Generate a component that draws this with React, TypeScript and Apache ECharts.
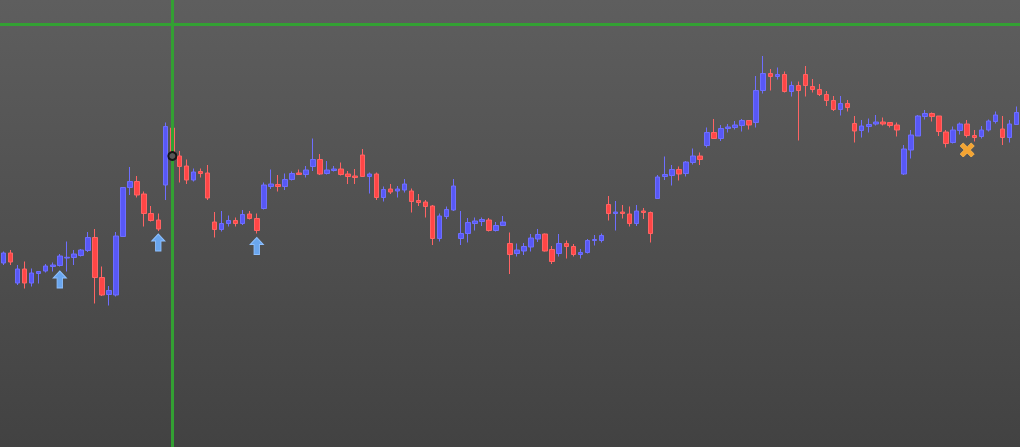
import React, { useEffect, useRef } from "react";
import * as echarts from "echarts";

// [open, close, low, high]
const candles: number[][] = [
  [184, 194, 182, 195.5],
  [194, 185, 182, 197],
  [164, 178, 162, 182],
  [178, 164, 158.5, 185.5],
  [164, 174, 160.5, 178.5],
  [173.5, 175.5, 163.5, 175.5],
  [176, 181, 174.5, 183],
  [180.5, 182, 175.5, 184.5],
  [181.5, 191, 180.5, 193],
  [189, 189.7, 175.5, 205.5],
  [189.5, 193, 182, 197],
  [191.5, 197, 190.5, 198],
  [196.5, 209.5, 195, 215],
  [209.5, 169.5, 143.5, 218],
  [169.5, 152, 151, 180.5],
  [152.5, 156.5, 141.5, 161],
  [152, 211, 150.5, 215],
  [210.5, 259.5, 210.5, 259.5],
  [259.5, 265.5, 252, 280],
  [265.5, 252, 249.5, 271],
  [253, 233.5, 220.5, 255.5],
  [233.5, 226.5, 225.5, 241],
  [227, 218, 216, 233.5],
  [262, 320.5, 247, 324.5],
  [319, 291, 284, 328.5],
  [291, 280.5, 264.5, 296],
  [281, 267, 263, 287.5],
  [267, 275, 265.5, 278.5],
  [275.5, 273.5, 269.5, 278.5],
  [274, 249, 247, 282],
  [225, 217.5, 209.5, 235],
  [217.5, 223.5, 215.5, 236],
  [223.5, 226.5, 220.5, 231.5],
  [226.5, 223.5, 220.5, 229.5],
  [223.5, 232.5, 222, 237],
  [233, 228.5, 227.5, 236],
  [228.5, 216.5, 213.5, 233.5],
  [238.5, 262, 237.5, 264.5],
  [260.5, 263, 258, 277.5],
  [262.5, 260.5, 255.5, 272],
  [260.5, 267.5, 257, 273.5],
  [267.5, 273.5, 266.5, 275.5],
  [274, 272.5, 272, 277.5],
  [272.5, 277, 269.5, 281],
  [280.5, 287.5, 276, 308.5],
  [287.5, 273, 272, 293],
  [273.5, 277, 272.5, 286],
  [276.5, 278, 275.5, 281],
  [278, 272.5, 271.5, 284.5],
  [273, 270.5, 263, 276],
  [271, 269.5, 263, 278],
  [292, 270.5, 270.5, 298],
  [270.5, 273, 253.5, 274.5],
  [273, 249.5, 247, 274.5],
  [249.5, 257.5, 245.5, 260.5],
  [258, 255, 253, 263],
  [256, 258, 249.5, 261],
  [257, 263, 254.5, 268],
  [256, 245.5, 234.5, 258.5],
  [246.5, 244.5, 241, 253],
  [245, 240.5, 229.5, 247],
  [241, 208.5, 202, 242],
  [208.5, 231, 205.5, 233.5],
  [230.5, 237.5, 228, 240.5],
  [237, 261, 236, 268],
  [208.5, 213.5, 202, 236],
  [213.5, 224.5, 204.5, 229],
  [223.5, 226, 216.5, 229.5],
  [225.5, 227.5, 221, 229.5],
  [227, 216.5, 215.5, 229],
  [216.5, 221.5, 215.5, 225],
  [221.5, 225, 221.5, 231],
  [203.5, 192.5, 173, 214.5],
  [193.5, 197, 190.5, 203.5],
  [196, 200.5, 192, 204],
  [200, 209, 195.5, 213],
  [208, 212.5, 205, 218],
  [213, 196, 195.5, 213.5],
  [197.5, 185.5, 183, 201],
  [193.5, 203.5, 190.5, 213],
  [203.5, 200.5, 188.5, 206.5],
  [200.5, 192.5, 190.5, 203],
  [192.5, 194.5, 188.5, 198],
  [194.5, 206.5, 193.5, 208],
  [206.5, 207.5, 201.5, 212],
  [206.5, 211.5, 204.5, 213.5],
  [242.5, 233.5, 226.5, 251],
  [233.5, 235, 216.5, 246],
  [235, 233.5, 228.5, 242],
  [233, 223.5, 220.5, 240.5],
  [223.5, 236, 221, 242],
  [236, 234.5, 228, 239],
  [234.5, 213.5, 204.5, 235.5],
  [248.5, 270, 248.5, 272],
  [270.5, 272.5, 267, 290.5],
  [271.5, 277.5, 261.5, 282],
  [277.5, 273, 266.5, 280.5],
  [273.5, 285, 270.5, 286],
  [284.5, 291, 282.5, 298.5],
  [291, 287.5, 282, 294.5],
  [301.5, 314.5, 299.5, 319.5],
  [314.5, 308.5, 308.5, 328],
  [308.5, 318.5, 306, 322],
  [318.5, 320, 314.5, 323],
  [319.5, 322, 317.5, 326],
  [321.5, 326.5, 315.5, 328],
  [326.5, 322, 317.5, 326.5],
  [324.5, 356.5, 319.5, 371],
  [356.5, 373.5, 353.5, 391],
  [373.5, 370.5, 356.5, 378],
  [370.5, 372.5, 367.5, 379.5],
  [372.5, 355.5, 354.5, 375.5],
  [355.5, 361.5, 350.5, 365.5],
  [361.5, 356.5, 306.5, 365.5],
  [372.5, 361.5, 350.5, 381],
  [360.5, 357.5, 354.5, 368],
  [357.5, 352.5, 351, 363],
  [352.5, 346.5, 341, 356],
  [346.5, 337.5, 336, 351],
  [337.5, 343.5, 331.5, 351],
  [343.5, 339.5, 335.5, 347],
  [323.5, 316, 304.5, 331],
  [316.5, 321, 309.5, 327],
  [320.5, 322.5, 314.5, 328.5],
  [323, 325, 321.5, 332],
  [325, 323, 321.5, 329.5],
  [324.5, 321.5, 319.5, 325],
  [322, 317, 310.5, 324.5],
  [273, 298, 272, 302],
  [297, 312, 288.5, 317],
  [311, 331, 311, 332],
  [330.5, 333.5, 327.5, 337],
  [333.5, 330.5, 325.5, 334.5],
  [331, 315.5, 311, 331],
  [315, 303.5, 299.5, 317],
  [304.5, 317, 303.5, 320.5],
  [316.5, 323, 312.5, 324.5],
  [323, 311.5, 309.5, 327],
  [311.5, 309.5, 305.5, 317],
  [310.5, 317, 308.5, 321],
  [317, 326, 315.5, 327.5],
  [325.5, 332, 323.5, 335.5],
  [318, 309.5, 302, 331],
  [309.5, 323, 304.5, 327],
  [322.5, 334.5, 322, 340.5],
];

const categories = candles.map((_, i) => String(i + 1));

// buy signals (blue up arrows)
const buyIndex = [8, 22, 36];
const buyLevel = [167.5, 204.5, 201];
// sell signal (orange cross)
const sellIndex = [137];
const sellLevel = [297];
// crosshair
const crossIndex = 24;
const crossLevel = 423;
const crossPointLevel = 291;

const ARROW = "path://M6,0 L12,7 L8.5,7 L8.5,17 L3.5,17 L3.5,7 L0,7 Z";
const CROSS =
  "path://M0,3 L3,0 L7,4 L11,0 L14,3 L10,7 L14,11 L11,14 L7,10 L3,14 L0,11 L4,7 Z";

export default function App() {
  const ref = useRef<HTMLDivElement>(null);
  useEffect(() => {
    if (!ref.current) return;
    const chart = echarts.init(ref.current, undefined, { renderer: "svg" });
    const markData: any[] = [];
    buyIndex.forEach((idx, k) => {
      markData.push({
        coord: [categories[idx], buyLevel[k]],
        symbol: ARROW,
        symbolSize: [13, 17],
        itemStyle: { color: "#6aa6ee", borderColor: "#8ec0ff", borderWidth: 1 },
      });
    });
    sellIndex.forEach((idx, k) => {
      markData.push({
        coord: [categories[idx], sellLevel[k]],
        symbol: CROSS,
        symbolSize: [14, 14],
        itemStyle: { color: "#f5a431", borderColor: "#f7b24a", borderWidth: 1 },
      });
    });
    markData.push({
      coord: [categories[crossIndex], crossPointLevel],
      symbol: "circle",
      symbolSize: 8,
      itemStyle: { color: "#575757", borderColor: "#151515", borderWidth: 2 },
    });
    chart.setOption({
      animation: false,
      backgroundColor: new echarts.graphic.LinearGradient(0, 0, 0, 1, [
        { offset: 0, color: "#5e5e5e" },
        { offset: 1, color: "#424242" },
      ]),
      grid: { left: 0, right: 0, top: 0, bottom: 0 },
      xAxis: {
        type: "category",
        data: categories,
        boundaryGap: true,
        show: false,
      },
      yAxis: {
        type: "value",
        min: 0,
        max: 447,
        show: false,
        splitLine: { show: false },
      },
      series: [
        {
          type: "candlestick",
          data: candles,
          barWidth: 5,
          itemStyle: {
            color: "#5858f6",
            borderColor: "#6e6eff",
            color0: "#ff4646",
            borderColor0: "#ff6464",
            borderWidth: 1,
          },
          markLine: {
            silent: true,
            symbol: ["none", "none"],
            label: { show: false },
            lineStyle: { color: "#33a033", width: 3, type: "solid", opacity: 1 },
            data: [{ xAxis: categories[crossIndex] }, { yAxis: crossLevel }],
          },
          markPoint: {
            silent: true,
            label: { show: false },
            data: markData,
          },
        },
      ],
    });
    return () => chart.dispose();
  }, []);
  return (
    <div
      ref={ref}
      style={{ position: "fixed", left: 0, top: 0, width: 1020, height: 447 }}
    />
  );
}
